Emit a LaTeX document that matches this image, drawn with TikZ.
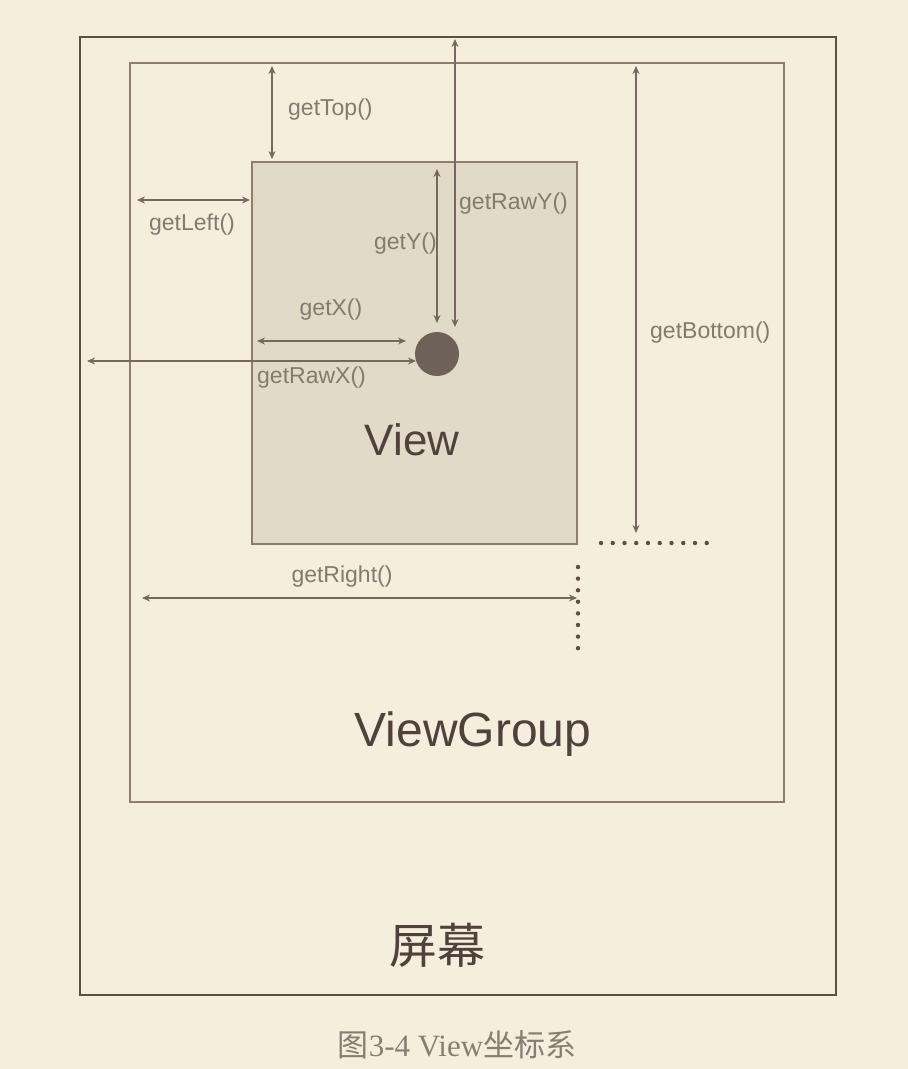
\documentclass[tikz,border=0pt]{standalone}
\usepackage{fontspec}
\setmainfont{Liberation Sans}
\newfontfamily\cjk{Noto Sans CJK SC}
\newfontfamily\capserif{Liberation Serif}
\usetikzlibrary{arrows.meta}
\definecolor{bgc}{RGB}{245,238,220}
\definecolor{framec}{RGB}{92,78,68}
\definecolor{vgc}{RGB}{140,126,112}
\definecolor{viewfill}{RGB}{226,218,200}
\definecolor{arrc}{RGB}{118,104,94}
\definecolor{labc}{RGB}{132,122,112}
\definecolor{dotc}{RGB}{110,98,88}
\definecolor{bigc}{RGB}{78,66,58}
\definecolor{capc}{RGB}{135,125,115}
\tikzset{
  arr/.style={draw=arrc, line width=1.7pt, {Stealth[length=8pt,width=7pt]}-{Stealth[length=8pt,width=7pt]}},
  lab/.style={text=labc, font=\fontsize{23}{25}\selectfont, inner sep=0pt},
  frame/.style={draw, inner sep=0pt, outer sep=0pt},
  dotline/.style={draw=framec, line width=4.4pt, line cap=round, dash pattern=on 0pt off 11.75pt}
}
\begin{document}
\begin{tikzpicture}[x=1pt,y=-1pt]
\fill[bgc] (0,0) rectangle (908,1069);
\useasboundingbox (0,0) rectangle (908,1069);
% frames
\node[frame, draw=framec, line width=2.6pt, minimum width=756pt, minimum height=958pt] (screen) at (458,516) {};
\node[frame, draw=vgc, line width=2.3pt, minimum width=654pt, minimum height=739pt] (vg) at (457,432.5) {};
\node[frame, draw=vgc, fill=viewfill, line width=2.4pt, minimum width=325pt, minimum height=382pt] (view) at (414.5,353) {};
\node[circle, fill=dotc, inner sep=0pt, minimum size=44pt] (dot) at (437,354) {};
% arrow end points
\coordinate (topA) at (272,66);
\coordinate (topB) at (272,159);
\coordinate (leftA) at (137,200);
\coordinate (leftB) at (250,200);
\coordinate (rawyA) at (455,39);
\coordinate (rawyB) at (455,327);
\coordinate (yA) at (437,169);
\coordinate (yB) at (437,323);
\coordinate (xA) at (257,341);
\coordinate (xB) at (406,341);
\coordinate (rawxA) at (87,361);
\coordinate (rawxB) at (416,361);
\coordinate (botA) at (636,66);
\coordinate (botB) at (636,533);
\coordinate (rightA) at (142,598);
\coordinate (rightB) at (577,598);
\draw[arr] (topA) -- (topB);
\draw[arr] (leftA) -- (leftB);
\draw[arr] (rawyA) -- (rawyB);
\draw[arr] (yA) -- (yB);
\draw[arr] (xA) -- (xB);
\draw[arr] (rawxA) -- (rawxB);
\draw[arr] (botA) -- (botB);
\draw[arr] (rightA) -- (rightB);
% labels
\node[lab, anchor=west] (ltop) at (288,110) {getTop()};
\node[lab] (lleft) at (192,225) {getLeft()};
\node[lab, anchor=west] (lrawy) at (459,204) {getRawY()};
\node[lab, anchor=east] (ly) at (437,244) {getY()};
\node[lab] (lx) at (331,310) {getX()};
\node[lab, anchor=west] (lrawx) at (257,378) {getRawX()};
\node[lab, anchor=west] (lbot) at (650,333) {getBottom()};
\node[lab] (lright) at (342,577) {getRight()};
% dotted lines
\coordinate (dhA) at (601,543);
\coordinate (dhB) at (708,543);
\coordinate (dvA) at (578,567);
\coordinate (dvB) at (578,649);
\draw[dotline] (dhA) -- (dhB);
\draw[dotline, dash pattern=on 0pt off 11.6pt] (dvA) -- (dvB);
% big texts
\node[text=bigc, font=\fontsize{44}{48}\selectfont, inner sep=0pt] (tview) at (412,440) {View};
\node[text=bigc, font=\fontsize{48}{50}\selectfont, inner sep=0pt] (tvg) at (473,734) {ViewGroup};
\node[text=bigc, font=\cjk\fontsize{48}{50}\selectfont, inner sep=0pt] (tscr) at (437,945) {屏幕};
\node[text=capc, font=\fontsize{31}{33}\selectfont, inner sep=0pt] (cap) at (457,1045) {{\cjk 图}{\capserif 3-4 View}{\cjk 坐标系}};
\end{tikzpicture}
\end{document}
